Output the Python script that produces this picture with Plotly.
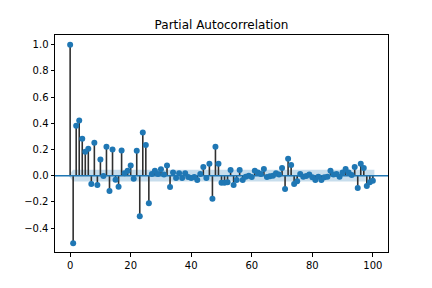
import plotly.graph_objects as go

lags = list(range(0, 101))
pacf_values = [
    1.0, -0.517, 0.381, 0.422, 0.281, 0.182, 0.205, -0.064, 0.251, -0.072,
    0.123, -0.003, 0.22, -0.118, 0.2, -0.031, -0.084, 0.192, 0.018, 0.038,
    0.077, -0.023, 0.19, -0.31, 0.33, 0.235, -0.21, 0.013, 0.038, 0.013,
    0.049, 0.008, 0.077, -0.087, 0.025, -0.018, 0.018, -0.018, 0.018, -0.01,
    -0.018, -0.01, -0.033, 0.013, 0.067, -0.018, 0.09, -0.177, 0.22, 0.09,
    -0.054, -0.054, -0.05, 0.044, -0.072, -0.033, 0.044, -0.033, -0.008, 0.0,
    -0.01, 0.038, 0.025, 0.013, 0.051, -0.01, -0.005, 0.0, 0.018, 0.008,
    0.059, -0.102, 0.13, 0.082, -0.064, -0.043, 0.013, -0.008, -0.003, 0.008,
    -0.013, -0.033, -0.008, -0.033, -0.013, -0.008, 0.038, 0.008, 0.013, -0.008,
    0.025, 0.051, 0.025, 0.005, 0.066, -0.095, 0.09, 0.059, -0.079, -0.051,
    -0.038,
]
conf_half_width = 0.045
title_text = "Partial Autocorrelation"
x_ticks = [0, 20, 40, 60, 80, 100]
y_ticks = [-0.4, -0.2, 0.0, 0.2, 0.4, 0.6, 0.8, 1.0]

C0 = "#1f77b4"

# confidence band (statsmodels style: first lag -0.5, last +0.5, zero width at lag 0)
band_x = [float(l) for l in lags]
band_x[0] -= 0.5
band_x[-1] += 0.5
band_hi = [0.0] + [conf_half_width] * (len(lags) - 1)
band_lo = [0.0] + [-conf_half_width] * (len(lags) - 1)

stem_x, stem_y = [], []
for l, v in zip(lags, pacf_values):
    stem_x += [l, l, None]
    stem_y += [0, v, None]

fig = go.Figure()
fig.add_trace(go.Scatter(x=band_x, y=band_lo, mode="lines", line=dict(width=0),
                         hoverinfo="skip", showlegend=False))
fig.add_trace(go.Scatter(x=band_x, y=band_hi, mode="lines", line=dict(width=0),
                         fill="tonexty", fillcolor="rgba(31,119,180,0.25)",
                         hoverinfo="skip", showlegend=False))
fig.add_trace(go.Scatter(x=stem_x, y=stem_y, mode="lines",
                         line=dict(color="#303030", width=1.6), showlegend=False))
fig.add_trace(go.Scatter(x=lags, y=pacf_values, mode="markers",
                         marker=dict(color=C0, size=6, line=dict(width=0)),
                         showlegend=False))
fig.add_shape(type="line", xref="paper", yref="y", x0=0, x1=1, y0=0, y1=0,
              line=dict(color=C0, width=1.5), layer="above")

fig.update_layout(
    width=432, height=288,
    margin=dict(l=55, r=44, t=35, b=36),
    paper_bgcolor="white", plot_bgcolor="white",
    font=dict(family="DejaVu Sans", size=10, color="black"),
    title=dict(text=title_text, x=(55 + 388) / 2 / 432, xanchor="center",
               y=1 - 25 / 288, yanchor="middle", font=dict(size=12, color="black")),
    xaxis=dict(range=[-5, 105], tickvals=x_ticks, showgrid=False, zeroline=False,
               showline=True, linecolor="black", linewidth=1, mirror=True,
               ticks="outside", ticklen=3.5, tickwidth=0.8, tickcolor="black"),
    yaxis=dict(range=[-0.583, 1.074], tickvals=y_ticks, tickformat=".1f",
               showgrid=False, zeroline=False,
               showline=True, linecolor="black", linewidth=1, mirror=True,
               ticks="outside", ticklen=3.5, tickwidth=0.8, tickcolor="black"),
)

fig.write_html("out.html", config={"displayModeBar": False},
               post_script="document.body.style.margin='0';document.body.style.overflow='hidden';")
